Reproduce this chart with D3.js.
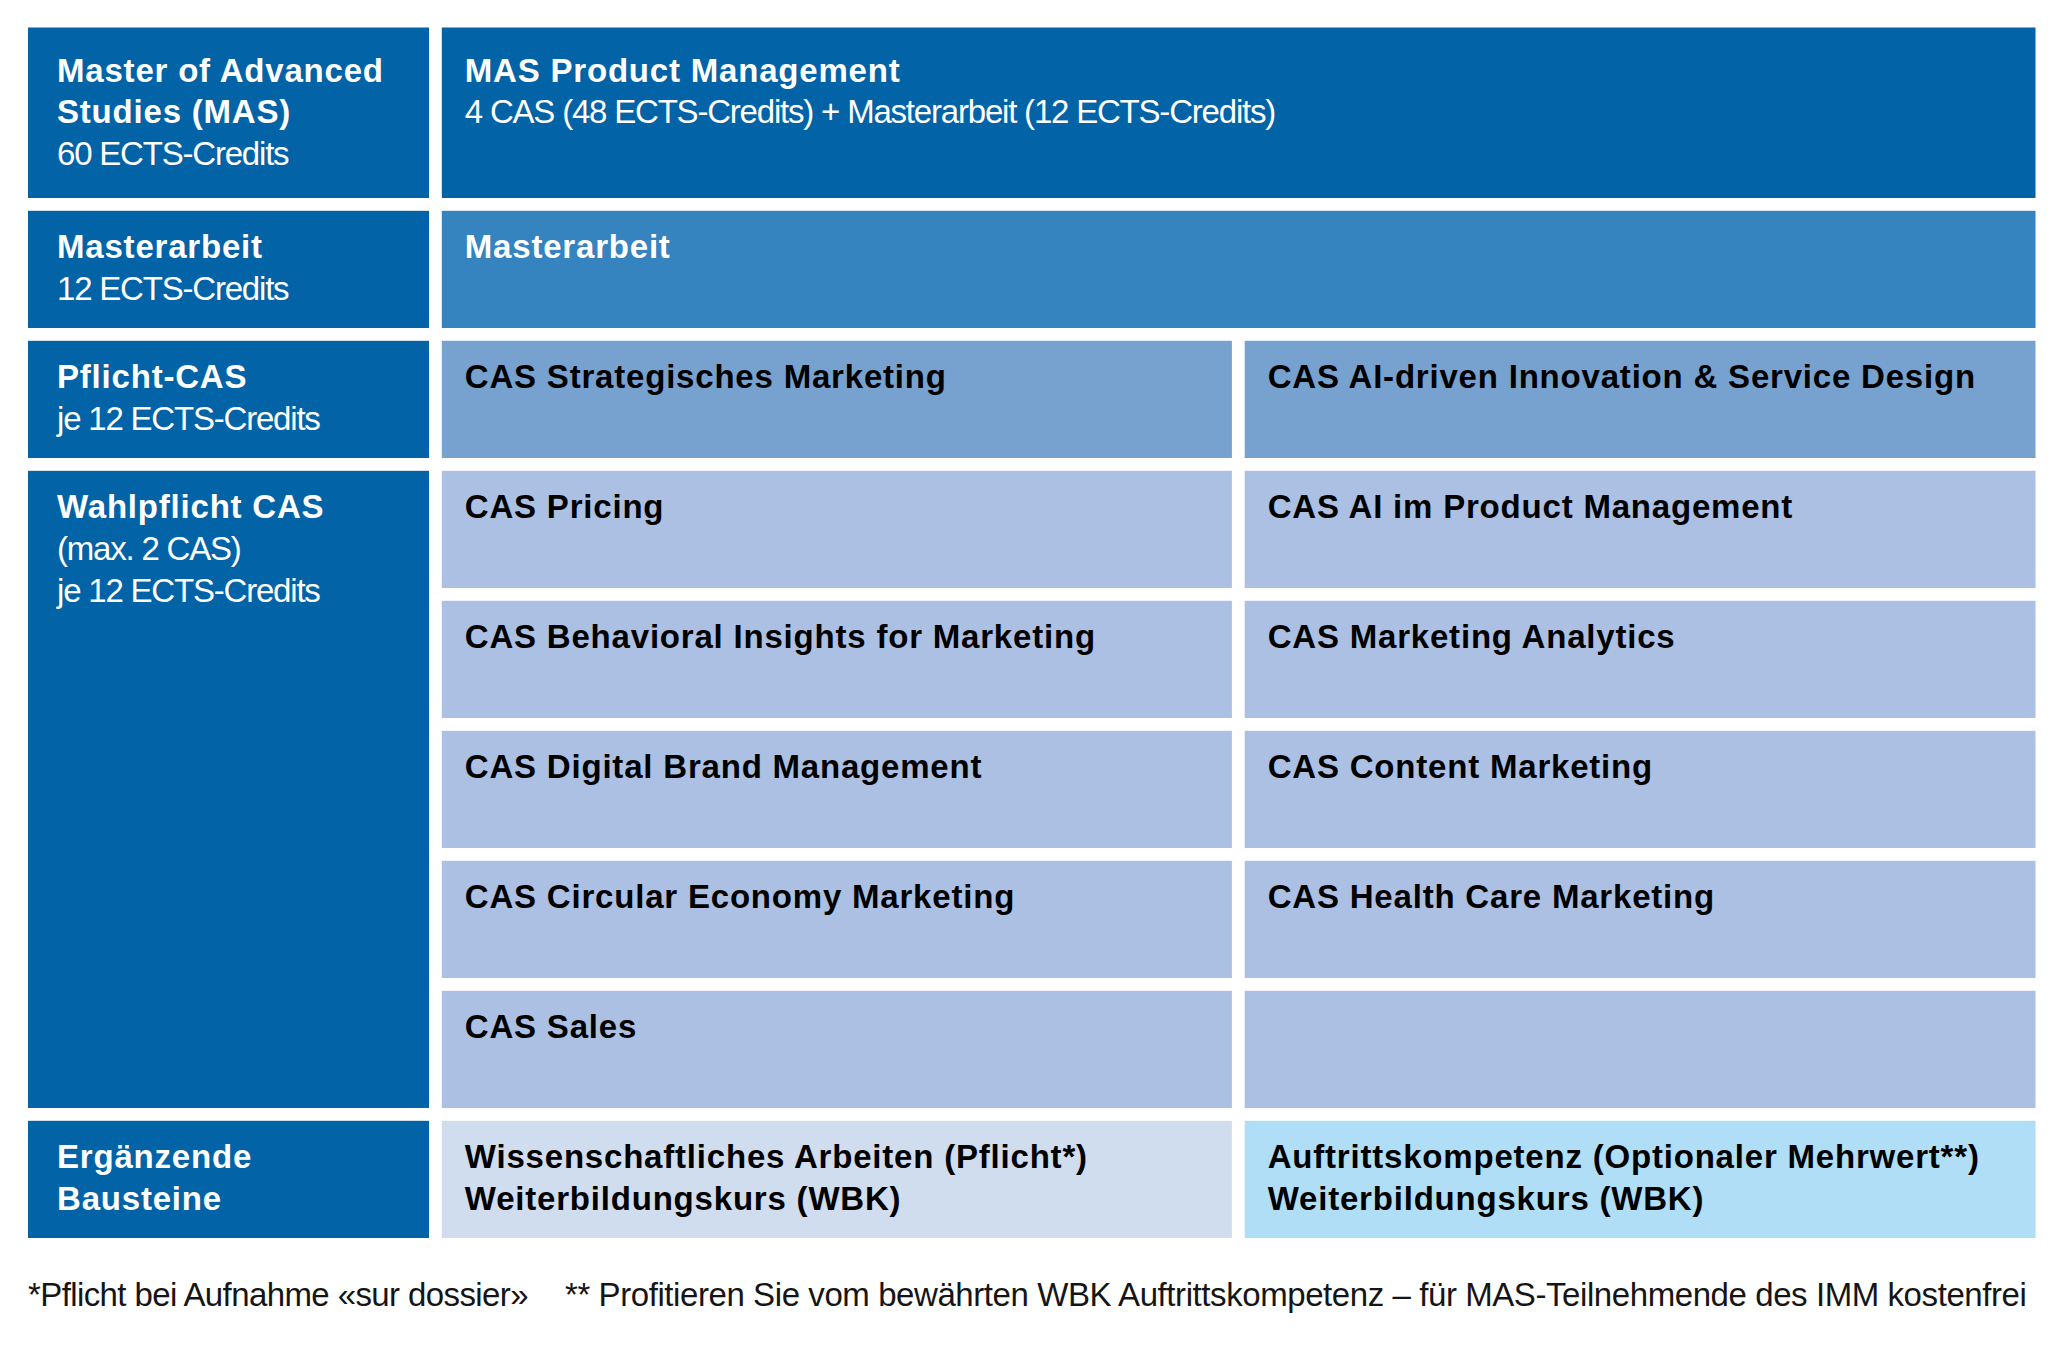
<!DOCTYPE html>
<html>
<head>
<meta charset="utf-8">
<script src="https://cdn.jsdelivr.net/npm/d3@7"></script>
<style>
  body { margin: 0; background: #fff; }
  text { font-family: "Liberation Sans", Arial, sans-serif; }
  .b { font-weight: bold; letter-spacing: 0.8px; }
  .r { font-weight: normal; letter-spacing: -1.2px; }
</style>
</head>
<body>
<div id="chart"></div>
<script>
// left column: level labels
var levelTitles = [["Master of Advanced", "Studies (MAS)"], ["Masterarbeit"], ["Pflicht-CAS"], ["Wahlpflicht CAS"], ["Ergänzende", "Bausteine"]];
var levelNotes = [["60 ECTS-Credits"], ["12 ECTS-Credits"], ["je 12 ECTS-Credits"], ["(max. 2 CAS)", "je 12 ECTS-Credits"], []];
var levelRows = [0, 1, 2, 3, 8];
var levelSpans = [1, 1, 1, 5, 1];

// programme content
var programme = ["MAS Product Management"];
var programmeNote = ["4 CAS (48 ECTS-Credits) + Masterarbeit (12 ECTS-Credits)"];
var thesis = ["Masterarbeit"];
var requiredCAS = ["CAS Strategisches Marketing", "CAS AI-driven Innovation & Service Design"];
var electiveLeft = ["CAS Pricing", "CAS Behavioral Insights for Marketing", "CAS Digital Brand Management", "CAS Circular Economy Marketing", "CAS Sales"];
var electiveRight = ["CAS AI im Product Management", "CAS Marketing Analytics", "CAS Content Marketing", "CAS Health Care Marketing", ""];
var supplements = [["Wissenschaftliches Arbeiten (Pflicht*)", "Weiterbildungskurs (WBK)"], ["Auftrittskompetenz (Optionaler Mehrwert**)", "Weiterbildungskurs (WBK)"]];
var footnotes = ["*Pflicht bei Aufnahme «sur dossier»", "** Profitieren Sie vom bewährten WBK Auftrittskompetenz – für MAS-Teilnehmende des IMM kostenfrei"];

var width = 2064, height = 1348;
var gap = 12.8;
var rowUnits = [1.41, 1, 1, 1, 1, 1, 1, 1, 1];
var rowStarts = d3.cumsum([0].concat(rowUnits));

var svg = d3.select("#chart").append("svg").attr("width", width).attr("height", height);

var x = d3.scaleLinear().domain([0, 1, 2, 3]).range([28, 441.8, 1244.7, 2048.3]);
var y = d3.scaleLinear().domain([0, rowStarts[rowStarts.length - 1]]).range([27.5, 27.5 + 130 * rowStarts[rowStarts.length - 1]]);

function rowTop(r) { return y(rowStarts[r]); }
function rowBottom(r) { return y(rowStarts[r + 1]) - gap; }

// collect cells
var cells = [];
levelTitles.forEach(function(t, i) {
  cells.push({ row: levelRows[i], span: levelSpans[i], col: 0, cols: 1, fill: "#0263a6", color: "#fff", bold: t, light: levelNotes[i], pad: 29 });
});
cells.push({ row: 0, span: 1, col: 1, cols: 2, fill: "#0263a6", color: "#fff", bold: programme, light: programmeNote });
cells.push({ row: 1, span: 1, col: 1, cols: 2, fill: "#3583bf", color: "#fff", bold: thesis, light: [] });
requiredCAS.forEach(function(t, i) {
  cells.push({ row: 2, span: 1, col: 1 + i, cols: 1, fill: "#77a2cf", color: "#000", bold: [t], light: [] });
});
electiveLeft.forEach(function(t, i) {
  cells.push({ row: 3 + i, span: 1, col: 1, cols: 1, fill: "#abc0e3", color: "#000", bold: t ? [t] : [], light: [] });
});
electiveRight.forEach(function(t, i) {
  cells.push({ row: 3 + i, span: 1, col: 2, cols: 1, fill: "#abc0e3", color: "#000", bold: t ? [t] : [], light: [] });
});
var suppFills = ["#d0ddef", "#afdef6"];
supplements.forEach(function(t, i) {
  cells.push({ row: 8, span: 1, col: 1 + i, cols: 1, fill: suppFills[i], color: "#000", bold: t, light: [] });
});

var g = svg.append("g").selectAll("g").data(cells).enter().append("g");

g.append("rect")
  .attr("x", function(d) { return x(d.col); })
  .attr("y", function(d) { return rowTop(d.row); })
  .attr("width", function(d) { return x(d.col + d.cols) - x(d.col) - gap; })
  .attr("height", function(d) { return rowBottom(d.row + d.span - 1) - rowTop(d.row); })
  .attr("fill", function(d) { return d.fill; });

var lineH = 41.8;
g.each(function(d) {
  var sel = d3.select(this);
  var tx = x(d.col) + (d.pad || 23);
  var ty = rowTop(d.row) + (d.row === 0 ? 54 : 47.2);
  var lines = d.bold.map(function(s) { return { s: s, c: "b" }; })
    .concat(d.light.map(function(s) { return { s: s, c: "r" }; }));
  sel.selectAll("text").data(lines).enter().append("text")
    .attr("class", function(l) { return l.c; })
    .attr("x", tx)
    .attr("y", function(l, i) { return ty + i * lineH; })
    .attr("font-size", 33)
    .attr("fill", d.color)
    .text(function(l) { return l.s; });
});

// footnotes
svg.append("g").selectAll("text").data(footnotes).enter().append("text")
  .attr("x", function(d, i) { return i === 0 ? 28 : 565; })
  .attr("y", 1306)
  .attr("font-size", 33)
  .attr("fill", "#151515")
  .style("letter-spacing", function(d, i) { return i === 0 ? "-0.6px" : "-0.42px"; })
  .text(function(d) { return d; });
</script>
</body>
</html>
